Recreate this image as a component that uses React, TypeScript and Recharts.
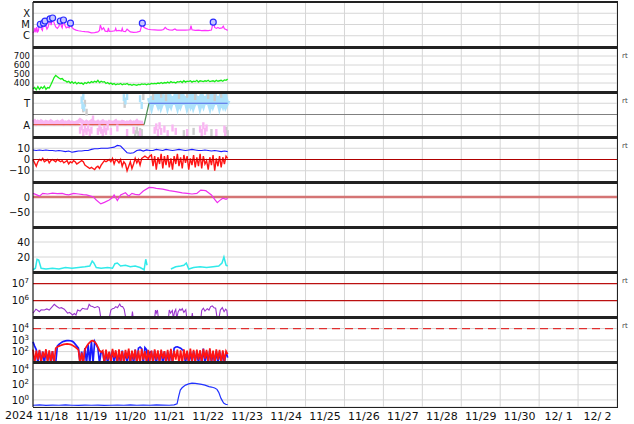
import React from 'react';
import { ComposedChart, Line, XAxis, YAxis, CartesianGrid, ReferenceLine } from 'recharts';

const FONT = '"DejaVu Sans", sans-serif';

// time axis: hours since 2024-11-18 00:00
const DAY_EDGES = [0, 24, 48, 72, 96, 120, 144, 168, 192, 216, 240, 264, 288, 312, 336, 360];
const DAY_CENTERS = [12, 36, 60, 84, 108, 132, 156, 180, 204, 228, 252, 276, 300, 324, 348];
const DAY_LABELS = ['11/18', '11/19', '11/20', '11/21', '11/22', '11/23', '11/24', '11/25', '11/26',
  '11/27', '11/28', '11/29', '11/30', '12/ 1', '12/ 2'];
const YEAR_LABEL = '2024';

const HOURLY = [
  0, 1, 2, 3, 4, 5, 6, 7, 8, 9, 10, 11, 12, 13, 14, 15, 16, 17, 18, 19,
  20, 21, 22, 23, 24, 25, 26, 27, 28, 29, 30, 31, 32, 33, 34, 35, 36, 37, 38, 39,
  40, 41, 42, 43, 44, 45, 46, 47, 48, 49, 50, 51, 52, 53, 54, 55, 56, 57, 58, 59,
  60, 61, 62, 63, 64, 65, 66, 67, 68, 69, 70, 71, 72, 73, 74, 75, 76, 77, 78, 79,
  80, 81, 82, 83, 84, 85, 86, 87, 88, 89, 90, 91, 92, 93, 94, 95, 96, 97, 98, 99,
  100, 101, 102, 103, 104, 105, 106, 107, 108, 109, 110, 111, 112, 113, 114, 115, 116, 117, 118, 119,
  120,
];
const BIHOURLY = [
  0, 2, 4, 6, 8, 10, 12, 14, 16, 18, 20, 22, 24, 26, 28, 30, 32, 34, 36, 38,
  40, 42, 44, 46, 48, 50, 52, 54, 56, 58, 60, 62, 64, 66, 68, 70, 72, 74, 76, 78,
  80, 82, 84, 86, 88, 90, 92, 94, 96, 98, 100, 102, 104, 106, 108, 110, 112, 114, 116, 118,
  120,
];

// panel 1: x-ray flux
const XRAY_TICKS = [1e-4, 1e-5, 1e-6];
const XRAY_TICK_LABELS = ['X', 'M', 'C'];
const XRAY_H = [
  0, 0.8, 1.2, 1.8, 2.3, 2.8, 3.3, 3.8, 4.5, 5.2,
  5.8, 6.5, 7, 7.4, 8, 8.6, 9.3, 10.5, 11.2, 12.1,
  13, 14, 15, 16, 16.8, 17.5, 18, 18.8, 19.6, 20.5,
  21.5, 22.3, 23.1, 24, 25, 26.5, 28, 30, 32, 34,
  36, 38, 40, 41, 41.5, 42.5, 43.5, 44.5, 46, 46.5,
  47, 49, 50.5, 51, 51.5, 53, 54.5, 55, 55.5, 57,
  58, 60, 62, 64, 66, 67.4, 68.2, 69.5, 71, 73,
  75, 77, 79, 80.5, 81.5, 82.5, 84, 86, 87.5, 88.5,
  90, 92, 94, 96.8, 97.4, 98, 100, 102, 104, 106,
  108, 110, 111.1, 112, 113, 114, 115, 116.5, 117.3, 118,
  119, 120,
];
const XRAY_V = [
  1.8e-6, 2.4e-6, 5e-6, 2e-6, 6e-6, 2.2e-6, 2.6e-6, 7e-6, 1.05e-5, 4e-6,
  3e-6, 1.3e-5, 6e-6, 2e-5, 7e-6, 4e-6, 6e-6, 3.1e-5, 9e-6, 3.8e-5,
  1.4e-5, 6e-6, 4.5e-6, 7e-6, 2.05e-5, 7e-6, 5e-6, 2.5e-5, 9e-6, 5e-6,
  6e-6, 5e-6, 1.3e-5, 5.5e-6, 4e-6, 3.2e-6, 2.8e-6, 2.5e-6, 2.3e-6, 2.2e-6,
  1.8e-6, 1.9e-6, 2.2e-6, 3e-6, 9e-6, 3.5e-6, 5e-6, 2.6e-6, 2.4e-6, 5e-6,
  2.5e-6, 2.6e-6, 2.8e-6, 4.5e-6, 2.7e-6, 3e-6, 2.6e-6, 4.5e-6, 2.5e-6, 2.3e-6,
  3.8e-6, 2.2e-6, 2e-6, 2.1e-6, 2.5e-6, 1.3e-5, 6e-6, 4.5e-6, 3.8e-6, 3.4e-6,
  3.3e-6, 3.1e-6, 3.2e-6, 3.6e-6, 5.5e-6, 4e-6, 3.3e-6, 3.2e-6, 4e-6, 3.2e-6,
  3.1e-6, 3.1e-6, 3.2e-6, 3.4e-6, 8e-6, 3.4e-6, 3e-6, 3.1e-6, 2.9e-6, 3e-6,
  2.9e-6, 3.2e-6, 1.6e-5, 5.5e-6, 4.5e-6, 5.5e-6, 4.5e-6, 5e-6, 7e-6, 4.2e-6,
  3.6e-6, 3e-6,
];
const FLARE_H = [4.5, 6.5, 7.4, 10.5, 12.1, 16.8, 18.8, 23.1, 67.4, 111.1];
const FLARE_V = [1.05e-5, 1.3e-5, 2e-5, 3.1e-5, 3.8e-5, 2.05e-5, 2.5e-5, 1.3e-5, 1.3e-5, 1.6e-5];

// panel 2: solar wind speed (hourly)
const WIND_TICKS = [700, 600, 500, 400];
const WIND = [
  335, 350, 325, 360, 330, 355, 340, 365, 330, 350,
  345, 380, 420, 460, 485, 470, 455, 445, 450, 430,
  425, 410, 420, 400, 415, 395, 410, 390, 405, 395,
  400, 385, 405, 395, 410, 400, 415, 405, 420, 410,
  430, 405, 420, 410, 415, 395, 405, 390, 400, 385,
  395, 380, 390, 385, 395, 380, 390, 385, 395, 380,
  385, 375, 385, 380, 375, 385, 380, 390, 385, 390,
  380, 390, 385, 395, 390, 395, 390, 400, 395, 405,
  395, 405, 400, 410, 400, 415, 405, 410, 400, 415,
  410, 420, 405, 425, 410, 420, 415, 425, 410, 420,
  415, 430, 410, 425, 420, 415, 425, 420, 430, 415,
  420, 425, 415, 430, 420, 425, 430, 420, 435, 430,
  445,
];

// panel 3: sector (Toward / Away)
const SECTOR_TICKS = [3, 1];
const SECTOR_TICK_LABELS = ['T', 'A'];
const SECTOR_A_H = [0, 68.5];
const SECTOR_A_V = [1.1, 1.1];
const SECTOR_X_H = [68.5, 71.5];
const SECTOR_X_V = [1.1, 3];
const SECTOR_T_H = [71.5, 120];
const SECTOR_T_V = [3, 3];
const PINK_BAND = [
  1.3, 1.4, 1.2, 1.35, 1.25, 1.4, 1.3, 1.2, 1.35, 1.3,
  1.25, 1.4, 1.3, 1.2, 1.3, 1.35, 1.25, 1.3, 1.4, 1.2,
  1.3, 1.25, 1.35, 1.2, 1.3, 1.25, 1.2, 1.3, 1.35, 1.5,
  1.4, 1.3, 1.2, 1.35, 1.25, 1.3, 1.4, 1.2, 1.3, 1.25,
  1.35, 1.2, 1.3, 1.4, 1.25, 1.3, 1.2, 1.35, 1.3, 1.25,
  1.3, 1.4, 1.2, 1.3, 1.25, 1.35, 1.3, 1.2, 1.3, 1.25,
  1.35, 1.2, 1.3, 1.25, 1.4, 1.2, 1.3, 1.25, 1.3,
];
const BLUE_BAND = [
  3.5, 3.0, 3.6, 2.9, 3.5, 3.1, 3.6, 3.0, 3.4, 2.9,
  3.6, 3.0, 3.5, 3.1, 3.6, 2.9, 3.5, 3.0, 3.6, 3.1,
  3.5, 2.9, 3.6, 3.0, 3.5, 3.1, 3.6, 3.0, 3.4, 2.9,
  3.6, 3.0, 3.5, 3.1, 3.6, 2.9, 3.5, 3.0, 3.6, 3.1,
  3.5, 2.9, 3.6, 3.0, 3.5, 3.1, 3.6, 3.0, 3.3,
];
const PINK_SPOT_H = [29, 30, 31, 32, 33, 34, 35, 36, 37, 40, 41, 42, 43, 44, 45, 46, 48, 52, 58, 62,
  66, 75, 76, 77, 78, 79, 81, 83, 86, 88, 95, 103, 104, 105, 106, 107, 113, 118, 118.5];
const PINK_SPOT_V = [0.6, 0.9, 0.4, 0.7, 0.5, 0.8, 0.4, 0.6, 1.6, 0.5, 0.8, 0.6, 0.4, 0.7, 0.5, 0.9, 0.5, 0.8, 0.4, 0.6,
  0.3, 0.6, 0.9, 0.4, 1.0, 0.5, 0.7, 0.3, 0.8, 0.5, 0.4, 0.7, 0.4, 1.0, 0.5, 0.8, 0.4, 0.7, 0.3];
const BLUE_SPOT_H = [30, 30.5, 31, 31.5, 56, 57, 58, 66, 67];
const BLUE_SPOT_V = [3.3, 2.8, 3.6, 2.6, 3.5, 3.2, 3.6, 3.4, 2.8];
const GRAY_SPOT_H = [31, 32, 33, 56.5, 63, 64, 65, 66, 67, 68, 74, 79, 82, 90, 93, 95, 99, 100, 108, 110,
  112, 116, 119, 120];
const GRAY_SPOT_V = [2.5, 3.0, 2.2, 2.9, 0.3, 0.6, 0.2, 0.5, 0.4, 3.6, 3.6, 3.8, 3.5, 3.7, 0.3, 3.8, 0.5, 3.6, 3.7, 0.4,
  3.5, 3.8, 0.6, 0.3];

// panel 4: IMF Bt (bi-hourly) and Bz (hourly)
const IMF_TICKS = [10, 0, -10];
const IMF_TICK_LABELS = ['10', '0', '\u221210'];
const BT = [
  8.5, 8, 8.5, 8, 8.5, 8, 8, 7.5, 8, 7.5,
  7, 7.5, 6.5, 7, 7.5, 7.5, 8, 8, 9, 9.5,
  9.5, 10, 10, 10, 10.5, 11, 12.5, 12, 9, 6,
  5.5, 6, 8, 8.5, 7.5, 8.5, 8, 8, 9, 8.5,
  8, 9, 8.5, 8, 8.5, 9, 8.5, 8, 8.5, 9,
  8.5, 8, 8, 8.5, 8, 7.5, 8, 7.5, 7, 7.5,
  7,
];
const BZ = [
  0, -3, -6, -2, 0, -1, 1, -2, -1, 0,
  -3, -1, 0, -1, -2, 0, -1, -2, -1, -3,
  -2, -1, -4, -2, -3, -1, -2, -4, -3, -2,
  -1, -2, -5, -6, -7, -8, -7, -8, -9, -7,
  -6, -8, -5, -3, -1, -2, -1, 0, -2, 1,
  -4, 0, -1, -3, 0, -6, -2, -4, -10, -6,
  -2, -8, -4, 1, -3, 0, -5, 1, 2, 3,
  2, 1, 3, 4, -6, 3, -9, 2, -4, 5,
  -8, 3, -5, 4, -7, 1, -9, 3, -4, 5,
  -6, 2, -8, 4, -3, 3, -9, 1, -5, 4,
  -7, 2, -6, 5, -8, 3, -4, -1, -9, 2,
  -5, 4, -10, 1, -6, 3, -7, 2, -4, 3,
  1,
];

// panel 5: Dst
const DST_TICKS = [0, -50];
const DST_TICK_LABELS = ['0', '\u221250'];
const DST_H = [0, 2, 4, 6, 9, 12, 15, 18, 20, 22, 25, 28, 31, 33, 35, 37, 39, 41.8, 44, 47,
  49, 50, 52, 54, 57, 59, 61, 63, 65.4, 68, 71.6, 74, 76, 80, 84, 88, 92, 95, 98, 101,
  103.4, 106.5, 108, 110, 112, 113.6, 115, 117, 119, 120];
const DST_V = [12, 8, 3, 12, 10, 13, 11, 12, 9, 7, 12, 10, 8, 7, 4, 1, -10, -23, -18, -10,
  -2, 7, -12, 7, 14, 3, 12, 9, 7, 20, 32, 31, 29, 26, 21, 18, 14, 12, 10, 12,
  23, 21, 15, 7, -8, -19, -12, -4, -8, -4];

// panel 6: proton density (gap between the two stretches)
const DENS_TICKS = [40, 20];
const DENS_H = [0, 1.5, 2.5, 3.5, 5, 8, 12, 16, 20, 24, 28, 32, 35, 36.5, 37.5, 39, 42, 46, 49, 50.5,
  52, 54, 57, 60, 63, 66, 68.5, 69.5, 70.3, 77,
  85, 88, 91, 93, 94.5, 96, 99, 103, 107, 111, 114.5, 116.5, 117.7, 119, 120];
const DENS_V = [3, 5, 17, 16, 5, 4, 5, 4, 6, 5, 6, 7, 8, 14.5, 12, 6, 5, 6, 5, 11,
  12, 8, 9, 7, 8, 6, 3, 17, 9, null,
  4, 7, 8, 9, 12, 4, 6, 7, 6, 7, 8, 12, 20, 9, 8];

// panel 7: electron flux
const ELEC_TICKS = [1e7, 1e6];
const ELEC_EXP = ['7', '6'];
const ELEC_H = [0, 1, 1.8, 3, 3.9, 5, 7, 8.5, 10, 11.5, 13.1, 14.5, 16.2, 17.5, 19.3, 21.3, 22.5, 24.4, 25.5, 26.5,
  27.5, 29, 30.5, 32, 33.6, 34.6, 35.5, 36.7, 38, 39.8, 40.8, 41.3, 41.8, 44, 47, 48, 49, 50, 51, 52.1,
  53.5, 54.3, 55.2, 56.2, 57.2, 58, 60.8, 61.3, 61.8, 62.5, 75, 75.5, 76, 76.7, 77.3, 78, 83.5, 84, 84.8, 85.9,
  86.5, 87.3, 88, 88.6, 89.5, 90.5, 91.2, 92, 93, 94.2, 94.8, 95.5, 97.8, 98.2, 98.6, 99, 103.5, 104, 105, 106,
  107.4, 108.5, 109.5, 110.5, 111.6, 112.6, 113.5, 114.6, 115.5, 116.7, 117.8, 118.8, 119.5, 120];
const ELEC_V = [1.8e5, 2.4e5, 3.1e5, 2.6e5, 2.2e5, 2.8e5, 2.75e5, 3.2e5, 2.75e5, 4e5, 6e5, 4.6e5, 3.5e5, 3.8e5, 3.1e5, 1.8e5, 2e5, 1.4e5, 1.7e5, 1.4e5,
  2.75e5, 2.4e5, 3.5e5, 3.2e5, 3.1e5, 6e5, 4.8e5, 4.4e5, 3.8e5, 4.4e5, 3.8e5, 2e5, 9e4, null, 9e4, 2.75e5, 3.3e5, 3.5e5, 4.4e5, 3.8e5,
  6.2e5, 4.5e5, 4.4e5, 3.1e5, 9e4, null, 9e4, 2.2e5, 9e4, null, 9e4, 2.75e5, 1.8e5, 2.75e5, 9e4, null, 9e4, 2.75e5, 1.8e5, 2.6e5,
  9e4, 2.2e5, 3e5, 9e4, 2.2e5, 3.1e5, 2.6e5, 3.3e5, 2e5, 2.9e5, 9e4, null, 9e4, 1.8e5, 9e4, null, 9e4, 2.6e5, 3.5e5, 2.4e5,
  3.3e5, 2.75e5, 4.4e5, 4.8e5, 3.8e5, 3.5e5, 9e4, 9e4, 2.75e5, 3.8e5, 2.2e5, 3.1e5, 2.6e5, 9e4];

// panel 8: particle flux (hourly)
const PART_TICKS = [1e4, 1e3, 1e2];
const PART_EXP = ['4', '3', '2'];
const PART_ALERT = 1e4;
const PART_BLUE = [
  700, 300, 150, 10, 120, 15, 100, 10, 130, 20, 90, 10, 110, 10,
  10, 300, 420, 550, 680, 780, 850, 890, 900, 880, 820, 650, 450, 300, 200,
  10, 100, 10,
  200, 10, 400, 10, 800, 10, 750, 400, 200, 10, 100,
  80, 10, 110, 10, 90, 20, 120, 10, 100, 10,
  90, 10, 120, 15, 80, 10, 110, 10, 100, 10,
  150, 10, 200, 250, 180, 10, 220, 150, 10, 90,
  100, 10, 120, 10, 90, 15, 110, 10, 100, 10,
  90, 10, 130, 10, 200, 250, 260, 230, 200, 150,
  120, 10, 100, 10, 90, 10, 110, 15, 100, 10,
  120, 10, 180, 10, 100, 10, 140, 10, 90, 10,
  110, 10, 100, 10, 90, 10, 100, 30,
];
const PART_RED = [
  150, 10, 120, 20, 140, 10, 100, 30, 160, 10, 130, 15, 110, 10,
  200, 250, 300, 340, 380, 420, 450, 460, 450, 420, 370, 310, 250, 190, 140,
  10, 80, 10,
  160, 280, 450, 650, 850, 880, 700, 450, 250, 120, 90,
  120, 10, 150, 20, 100, 10, 170, 30, 130, 10,
  160, 15, 110, 10, 140, 25, 180, 10, 120, 20,
  150, 10, 130, 10, 170, 20, 110, 10, 140, 15,
  120, 10, 160, 20, 130, 10, 150, 25, 110, 10,
  140, 15, 170, 10, 120, 20, 150, 10, 130, 10,
  160, 20, 120, 10, 180, 15, 140, 10, 150, 20,
  130, 10, 170, 25, 140, 10, 190, 15, 120, 10,
  160, 20, 140, 10, 130, 15, 110, 60,
];

// panel 9: high-energy proton flux
const HEP_TICKS = [1e4, 1e2, 1];
const HEP_EXP = ['4', '2', '0'];
const HEP_H = [0, 4, 8, 12, 16, 20, 24, 28, 32, 36, 40, 44, 48, 52, 56, 60, 64, 68, 72, 76,
  80, 84, 87, 88.8, 89.8, 90.8, 91.9, 94, 96, 98, 100, 102, 104, 106, 108.5, 110, 112, 113.4, 114.5, 115.9,
  117, 117.7, 119, 120];
const HEP_V = [0.2, 0.22, 0.19, 0.21, 0.2, 0.22, 0.2, 0.19, 0.21, 0.2, 0.21, 0.19, 0.2, 0.21, 0.2, 0.22, 0.2, 0.21, 0.2, 0.22,
  0.21, 0.2, 0.22, 0.3, 3, 20, 40, 90, 130, 160, 150, 130, 110, 90, 56, 50, 38, 25, 10, 1.6,
  0.6, 0.36, 0.25, 0.25];

const rows = (hs: number[], vs: (number | null)[]) => hs.map((h, i) => ({ h, v: vs[i] }));

const W = 634;
const PH = 45;
const MARGIN = { top: 0, right: 17, bottom: 0, left: 0 };
const X_DOMAIN = [0, 360];
const GRID = '#d6d6d6';
const PANEL_TOPS = [2, 47, 92, 137, 182, 227, 272, 317, 362];
const RT_PANELS = [1, 2, 3, 6, 7];

const textTick = (labels: string[], size = 10) => (p: any) => (
  <text x={p.x} y={p.y} dy="0.36em" textAnchor="end" fontSize={size} fontFamily={FONT} fill="#111">
    {labels[p.index]}
  </text>
);

const powTick = (exps: string[]) => (p: any) => (
  <text x={p.x - 1} y={p.y} dy="0.36em" textAnchor="end" fontSize={10} fontFamily={FONT} fill="#111">
    10<tspan dy={-4} fontSize={7}>{exps[p.index]}</tspan>
  </text>
);

const spot = (fill: string) => (p: any) =>
  p.cy == null ? <g key={`n${p.index}`} /> : (
    <rect key={`s${p.index}`} x={p.cx - 1.2} y={p.cy - 3.5} width={2.4} height={7} fill={fill} />
  );

const yBase = {
  width: 33,
  axisLine: { stroke: '#000' },
  tickLine: false,
  tickSize: 0,
  tickMargin: 3,
  interval: 0 as const,
  type: 'number' as const,
  allowDataOverflow: true,
};

export default function App() {
  const hiddenX = <XAxis type="number" dataKey="h" domain={X_DOMAIN} ticks={DAY_EDGES} hide />;
  const grid = <CartesianGrid stroke={GRID} verticalValues={DAY_EDGES} />;

  return (
    <div style={{ position: 'absolute', left: 0, top: 0, width: W, height: 424, background: '#fff', fontFamily: FONT }}>
      {/* 1: x-ray */}
      <div style={{ position: 'absolute', left: 0, top: PANEL_TOPS[0] }}>
        <ComposedChart width={W} height={PH} margin={MARGIN}>
          {grid}
          {hiddenX}
          <YAxis {...yBase} scale="log" domain={[1e-7, 1e-3]} ticks={XRAY_TICKS} tick={textTick(XRAY_TICK_LABELS)} />
          <Line data={rows(XRAY_H, XRAY_V)} dataKey="v" stroke="#ff33ff" strokeWidth={1.2} dot={false} isAnimationActive={false} />
          <Line data={rows(FLARE_H, FLARE_V)} dataKey="v" stroke="none" isAnimationActive={false}
            dot={{ r: 3, stroke: '#2a2aff', strokeWidth: 1.2, fill: '#c8c8ff' }} />
        </ComposedChart>
      </div>

      {/* 2: wind speed */}
      <div style={{ position: 'absolute', left: 0, top: PANEL_TOPS[1] }}>
        <ComposedChart width={W} height={PH} margin={MARGIN}>
          {grid}
          {hiddenX}
          <YAxis {...yBase} domain={[300, 800]} ticks={WIND_TICKS} tick={textTick(WIND_TICKS.map(String), 8.5)} />
          <Line data={rows(HOURLY, WIND)} dataKey="v" stroke="#18ee18" strokeWidth={1.3} dot={false} isAnimationActive={false} />
        </ComposedChart>
      </div>

      {/* 3: sector */}
      <div style={{ position: 'absolute', left: 0, top: PANEL_TOPS[2] }}>
        <ComposedChart width={W} height={PH} margin={MARGIN}>
          {grid}
          {hiddenX}
          <YAxis {...yBase} domain={[0, 4]} ticks={SECTOR_TICKS} tick={textTick(SECTOR_TICK_LABELS)} />
          <ReferenceLine y={2} stroke="#808080" strokeWidth={1} />
          <Line data={rows(GRAY_SPOT_H, GRAY_SPOT_V)} dataKey="v" stroke="none" dot={spot('#cccccc')} isAnimationActive={false} />
          <Line data={rows(HOURLY.slice(0, 69), PINK_BAND)} dataKey="v" stroke="#f9b6f2" strokeWidth={4} dot={false} isAnimationActive={false} />
          <Line data={rows(HOURLY.slice(72), BLUE_BAND)} dataKey="v" stroke="#ade2fb" strokeWidth={6} dot={false} isAnimationActive={false} />
          <Line data={rows(PINK_SPOT_H, PINK_SPOT_V)} dataKey="v" stroke="none" dot={spot('#f9b6f2')} isAnimationActive={false} />
          <Line data={rows(BLUE_SPOT_H, BLUE_SPOT_V)} dataKey="v" stroke="none" dot={spot('#ade2fb')} isAnimationActive={false} />
          <Line data={rows(SECTOR_A_H, SECTOR_A_V)} dataKey="v" stroke="#e25a4e" strokeWidth={1.2} dot={false} isAnimationActive={false} />
          <Line data={rows(SECTOR_X_H, SECTOR_X_V)} dataKey="v" stroke="#4f8f55" strokeWidth={1.2} dot={false} isAnimationActive={false} />
          <Line data={rows(SECTOR_T_H, SECTOR_T_V)} dataKey="v" stroke="#5064e6" strokeWidth={1.2} dot={false} isAnimationActive={false} />
        </ComposedChart>
      </div>

      {/* 4: IMF */}
      <div style={{ position: 'absolute', left: 0, top: PANEL_TOPS[3] }}>
        <ComposedChart width={W} height={PH} margin={MARGIN}>
          {grid}
          {hiddenX}
          <YAxis {...yBase} domain={[-20, 20]} ticks={IMF_TICKS} tick={textTick(IMF_TICK_LABELS)} />
          <Line data={rows(BIHOURLY, BT)} dataKey="v" stroke="#1a1aff" strokeWidth={1.1} dot={false} isAnimationActive={false} />
          <Line data={rows(HOURLY, BZ)} dataKey="v" stroke="#ff1414" strokeWidth={1.4} dot={false} isAnimationActive={false} />
          <ReferenceLine y={0} stroke="#b00000" strokeWidth={1.2} />
        </ComposedChart>
      </div>

      {/* 5: Dst */}
      <div style={{ position: 'absolute', left: 0, top: PANEL_TOPS[4] }}>
        <ComposedChart width={W} height={PH} margin={MARGIN}>
          {grid}
          {hiddenX}
          <YAxis {...yBase} domain={[-100, 50]} ticks={DST_TICKS} tick={textTick(DST_TICK_LABELS)} />
          <ReferenceLine y={0} stroke="#d47474" strokeWidth={2.5} />
          <Line data={rows(DST_H, DST_V)} dataKey="v" stroke="#ee30ee" strokeWidth={1.2} dot={false} isAnimationActive={false} />
        </ComposedChart>
      </div>

      {/* 6: density */}
      <div style={{ position: 'absolute', left: 0, top: PANEL_TOPS[5] }}>
        <ComposedChart width={W} height={PH} margin={MARGIN}>
          {grid}
          {hiddenX}
          <YAxis {...yBase} domain={[0, 60]} ticks={DENS_TICKS} tick={textTick(DENS_TICKS.map(String))} />
          <Line data={rows(DENS_H, DENS_V)} dataKey="v" stroke="#30eaea" strokeWidth={1.5} dot={false} isAnimationActive={false} />
        </ComposedChart>
      </div>

      {/* 7: electrons */}
      <div style={{ position: 'absolute', left: 0, top: PANEL_TOPS[6] }}>
        <ComposedChart width={W} height={PH} margin={MARGIN}>
          <CartesianGrid stroke={GRID} horizontal={false} verticalValues={DAY_EDGES} />
          {hiddenX}
          <YAxis {...yBase} scale="log" domain={[1.07e5, 4.8e7]} ticks={ELEC_TICKS} tick={powTick(ELEC_EXP)} />
          {ELEC_TICKS.map((t) => (
            <ReferenceLine key={t} y={t} stroke="#bb1010" strokeWidth={1.2} />
          ))}
          <Line data={rows(ELEC_H, ELEC_V)} dataKey="v" stroke="#9a36cc" strokeWidth={1.1} dot={false} isAnimationActive={false} />
        </ComposedChart>
      </div>

      {/* 8: particles */}
      <div style={{ position: 'absolute', left: 0, top: PANEL_TOPS[7] }}>
        <ComposedChart width={W} height={PH} margin={MARGIN}>
          {grid}
          {hiddenX}
          <YAxis {...yBase} scale="log" domain={[12.6, 1e5]} ticks={PART_TICKS} tick={powTick(PART_EXP)} />
          <ReferenceLine y={PART_ALERT} stroke="#e03030" strokeWidth={1.3} strokeDasharray="8 5" />
          <Line data={rows(HOURLY, PART_BLUE)} dataKey="v" stroke="#1a1aff" strokeWidth={1.7} dot={false} isAnimationActive={false} />
          <Line data={rows(HOURLY, PART_RED)} dataKey="v" stroke="#ff1414" strokeWidth={1.7} dot={false} isAnimationActive={false} />
        </ComposedChart>
      </div>

      {/* 9: high-energy protons + time axis */}
      <div style={{ position: 'absolute', left: 0, top: PANEL_TOPS[8] }}>
        <ComposedChart width={W} height={PH + 18} margin={MARGIN}>
          {grid}
          <XAxis type="number" dataKey="h" domain={X_DOMAIN} ticks={DAY_CENTERS} interval={0}
            tickFormatter={(_v: number, i: number) => DAY_LABELS[i]} axisLine={false} tickLine={false}
            tickSize={0} tickMargin={5} height={18}
            tick={{ fontSize: 11, fill: '#111', fontFamily: FONT }} />
          <YAxis {...yBase} scale="log" domain={[0.117, 1e5]} ticks={HEP_TICKS} tick={powTick(HEP_EXP)} />
          <Line data={rows(HEP_H, HEP_V)} dataKey="v" stroke="#2233ff" strokeWidth={1.2} dot={false} isAnimationActive={false} />
        </ComposedChart>
      </div>

      {/* frame */}
      {PANEL_TOPS.map((t, i) => (
        <div key={t} style={{ position: 'absolute', left: 33, width: 585, top: t - (i === 0 ? 1 : 1.5), height: i === 0 ? 2 : 3, background: '#222' }} />
      ))}
      <div style={{ position: 'absolute', left: 33, width: 585, top: 406.5, height: 1, background: '#222' }} />
      <div style={{ position: 'absolute', left: 617, width: 1, top: 2, height: 405, background: '#222' }} />
      {RT_PANELS.map((i) => (
        <div key={i} style={{ position: 'absolute', left: 622, top: PANEL_TOPS[i] + 5, fontSize: 7, color: '#444', lineHeight: '8px' }}>rt</div>
      ))}
      <div style={{ position: 'absolute', left: 5, top: 410, fontSize: 11, color: '#111', lineHeight: '12px' }}>{YEAR_LABEL}</div>
    </div>
  );
}
